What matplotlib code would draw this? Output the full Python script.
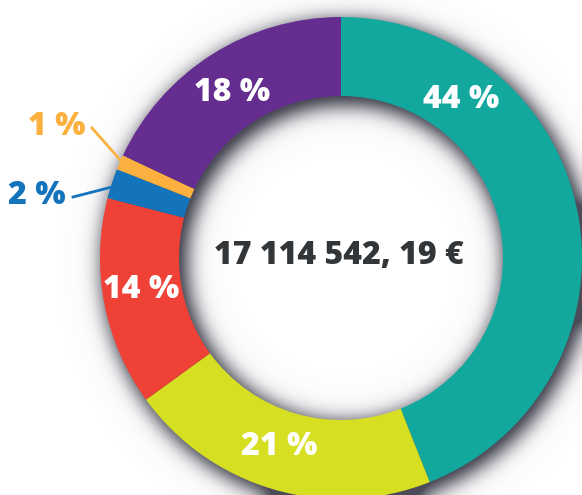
import numpy as np
import matplotlib
matplotlib.use("Agg")
from matplotlib import pyplot as plt

# data
shares = [44, 21, 14, 2, 1, 18]
labels = ['44 %', '21 %', '14 %', '2 %', '1 %', '18 %']
colors = ['#13A89E', '#D7DF23', '#EF4136', '#1374BC', '#FBB040', '#662D91']
total_text = '17 114 542, 19 €'

W, H = 582, 495
cx, cy = 341, 258          # centre in image pixels (y down)
R_out, R_in = 241, 162

plt.rcParams['font.family'] = ['Open Sans', 'DejaVu Sans']

fig = plt.figure(figsize=(W / 100, H / 100), dpi=100)
ax = fig.add_axes([0, 0, 1, 1])


def blur(img, sigma):
    # separable gaussian blur
    rad = int(3 * sigma)
    k = np.exp(-0.5 * (np.arange(-rad, rad + 1) / sigma) ** 2)
    k /= k.sum()
    pad = np.pad(img, rad, mode='edge')
    tmp = np.apply_along_axis(lambda r: np.convolve(r, k, mode='valid'), 1, pad)
    return np.apply_along_axis(lambda c: np.convolve(c, k, mode='valid'), 0, tmp)


# drop shadow of the ring, offset down-right and a bit spread out
yy, xx = np.mgrid[0:H, 0:W]
d = np.hypot(xx - (cx + 4), yy - (cy + 5))
ring = ((d <= R_out + 3) & (d >= R_in - 4)).astype(float)
shadow = np.clip(blur(ring, 9) * 1.05 + blur(ring, 24) * 0.15, 0, 1)
rgba = np.zeros((H, W, 4))
rgba[..., 0] = 0.30
rgba[..., 1] = 0.30
rgba[..., 2] = 0.35
rgba[..., 3] = shadow
ax.imshow(rgba, extent=(0, W, 0, H), origin='upper', zorder=0, interpolation='bilinear')

ax.pie(shares, colors=colors, startangle=90, counterclock=False,
       center=(cx, H - cy), radius=R_out,
       wedgeprops=dict(width=R_out - R_in, linewidth=0), normalize=True)

fs = 23
fw = 800
# labels inside ring (image pixel positions)
inner_pos = {0: (461, 100), 1: (279, 447), 2: (141, 290), 5: (232, 93)}
for i, (px, py) in inner_pos.items():
    ax.text(px, H - py, labels[i], color='white', fontsize=fs, fontweight=fw,
            ha='center', va='center', zorder=5)

# small slices with leader lines
ax.text(57, H - 127, labels[4], color=colors[4], fontsize=fs, fontweight=fw,
        ha='center', va='center', zorder=5)
ax.plot([92, 122], [H - 128, H - 162], color=colors[4], lw=2, zorder=5)
ax.text(37, H - 196, labels[3], color=colors[3], fontsize=fs, fontweight=fw,
        ha='center', va='center', zorder=5)
ax.plot([73, 112], [H - 197, H - 187], color=colors[3], lw=2, zorder=5)

ax.text(339, H - 256, total_text, color='#333638', fontsize=fs, fontweight=fw,
        ha='center', va='center', zorder=5)

ax.set_xlim(0, W)
ax.set_ylim(0, H)
ax.set_aspect('auto')
ax.axis('off')

fig.savefig('out.png', dpi=100)
